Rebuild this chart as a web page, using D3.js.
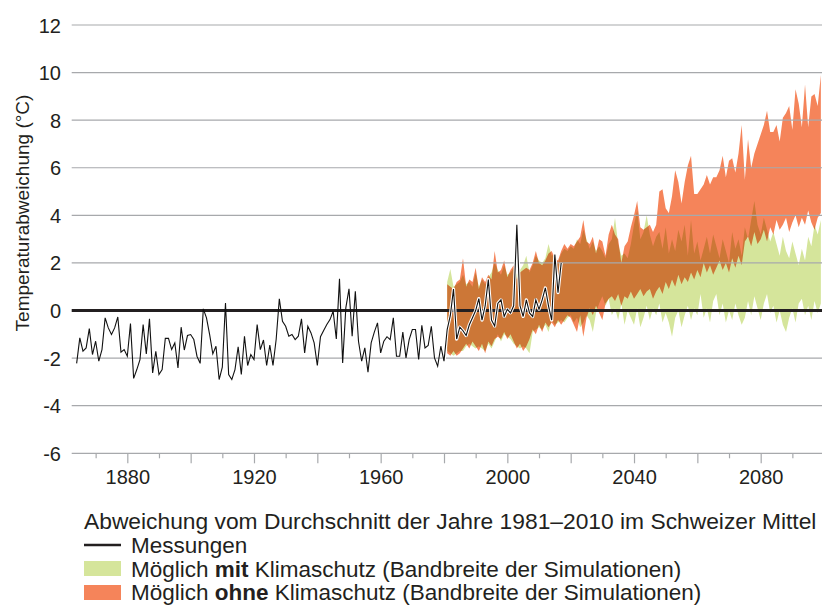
<!DOCTYPE html>
<html><head><meta charset="utf-8">
<script src="https://cdn.jsdelivr.net/npm/d3@7"></script>
<style>
body{margin:0;background:#fff}
svg{display:block}
text{font-family:"Liberation Sans",Arial,Helvetica,sans-serif;fill:#231f20}
</style>
</head><body>
<svg id="c" width="822" height="605"></svg>
<script>
// ---------- data ----------
const messStart = 1864;
const messungen = [
 -2.22,-1.15,-1.71,-1.57,-0.76,-1.85,-1.29,-2.13,-1.64,-0.31,
 -0.73,-1.01,-0.73,-0.27,-1.75,-1.64,-1.92,-0.55,-2.85,-2.48,
 -2.06,-0.59,-1.82,-0.35,-2.62,-1.71,-2.69,-2.48,-1.17,-1.17,
 -1.64,-1.36,-2.41,-0.70,-1.66,-1.05,-1.01,-1.22,-1.92,-2.22,
  0.07,-0.31,-1.01,-1.82,-1.50,-2.90,-2.38, 0.32,-2.69,-2.90,
 -2.48,-1.52,-2.69,-1.08,-2.31,-1.85,-2.06,-0.59,
 -1.64,-1.24,-2.31,-1.45,-2.31,-1.22, 0.49,-0.45,-0.66,-1.08,
 -1.01,-1.22,-1.08,-0.35,-1.78,-0.66,-0.94,-1.36,-2.31,-1.10,
 -0.84,-0.59,-0.38,-0.03,-1.19, 1.33,-2.20, 0.11, 0.91,-1.08,
  0.81,-1.29,-2.13,-1.57,-2.59,-1.36,-0.91,-0.52,-1.78,-1.29,
 -1.10,-1.22,-0.31,-1.92,-1.92,-0.91,-1.99,-1.22,-0.80,-0.80,
 -2.06,-0.62,-1.57,-1.47,-0.66,-1.99,-2.34,-1.50,-2.13,
 -0.80,-0.20, 0.90,-1.20,-0.70,-0.85,-1.05,-0.60,-0.30, 0.00,
  0.50,-0.40, 0.20, 1.30,-0.40,-0.65, 0.30, 0.45,-0.25, 0.05,
 -0.10, 0.20, 3.60, 0.20,-0.25, 0.45,-0.10,-0.25, 0.45, 0.05,
  0.45, 0.95, 0.20,-0.40, 2.35, 0.75, 2.00
];
const bandStart = 1981;
const ohneHi = [
 1.1,1.0,0.9,1.2,1.3,2.2,1.0,1.3,1.2,1.8,
 0.9,1.4,1.2,1.5,1.3,2.5,1.6,1.7,2.1,1.4,
 1.7,1.9,1.3,1.6,1.7,1.8,1.7,2.0,2.5,2.0,
 1.9,2.1,2.4,2.5,2.2,2.1,2.5,2.8,2.6,2.8,
 2.7,2.9,3.1,3.8,2.9,2.8,3.1,2.4,3.0,2.9,
 2.3,3.2,3.6,3.2,3.0,2.0,2.7,2.9,3.5,4.0,
 4.6,3.5,3.4,3.5,3.6,3.3,3.6,5.0,5.1,4.3,
 4.1,4.8,5.9,5.4,4.5,5.4,6.1,6.5,4.9,4.9,
 5.1,5.3,5.7,5.3,5.6,5.6,5.9,6.5,5.6,6.3,
 6.4,5.8,6.6,7.8,5.5,7.2,6.0,6.6,7.0,7.4,
 7.8,8.4,7.5,7.5,7.8,7.1,8.1,8.3,8.6,7.6,
 9.3,8.7,7.7,9.5,7.7,9.0,9.1,8.6,9.9
];
const ohneLo = [
 -1.8,-1.9,-1.7,-1.9,-1.8,-1.6,-1.4,-1.6,-1.3,-1.5,
 -1.7,-1.4,-1.8,-1.3,-1.5,-1.2,-1.1,-1.2,-0.9,-1.2,
 -1.0,-1.3,-1.6,-1.4,-1.7,-1.5,-1.2,-0.8,-1.0,-0.6,
 -0.9,-0.5,-0.7,-0.5,-0.7,-0.4,-0.6,-0.4,-0.2,-0.3,
 -0.6,-0.9,-0.2,-1.1,-0.3,0.1,-0.2,0.2,-0.1,-0.4,
 0.3,0.5,0.6,0.4,0.7,0.2,0.6,0.5,0.8,0.5,
 0.7,0.9,0.6,0.8,0.9,0.5,0.8,1.0,0.7,1.2,
 0.9,1.3,1.0,1.5,1.1,1.4,1.2,1.6,1.3,1.7,
 1.4,2.0,1.6,1.9,1.5,1.8,2.1,1.7,2.0,1.6,
 2.2,1.8,2.3,1.9,2.9,3.1,2.7,3.3,2.8,3.0,
 3.4,2.9,3.5,3.2,3.8,3.4,3.6,3.9,3.3,3.7,
 4.0,3.5,3.9,3.6,4.2,3.7,3.4,3.9,4.1
];
const mitHi = [
 1.2,1.75,1.0,1.1,1.2,1.5,1.1,1.2,1.0,1.6,
 1.0,1.3,1.1,1.4,1.6,2.0,1.7,1.5,1.9,1.5,
 1.6,1.8,1.5,1.7,1.9,2.3,1.6,1.9,2.3,2.1,
 2.0,2.2,2.8,2.3,2.4,2.0,2.4,2.6,2.5,2.7,
 2.6,3.0,2.8,3.4,3.0,2.6,2.9,2.5,2.7,2.5,
 2.2,2.8,3.0,3.9,2.8,2.3,2.4,2.2,2.8,3.6,
 4.2,3.0,3.3,4.0,3.2,2.7,3.1,3.3,2.6,3.5,
 2.4,3.0,2.5,3.4,2.9,3.6,2.3,3.8,2.4,2.9,
 2.1,2.6,3.1,2.4,3.2,2.7,2.2,3.0,2.5,2.0,
 3.3,2.6,3.0,2.3,3.5,3.0,3.8,4.6,3.6,3.2,
 3.9,3.4,2.9,3.3,2.8,2.3,3.1,2.5,2.2,2.9,
 2.4,1.9,2.6,2.1,3.1,2.7,3.6,3.2,3.8
];
const mitLo = [
 -1.7,-1.8,-1.9,-1.8,-1.7,-1.7,-1.5,-1.4,-1.5,-1.6,
 -1.5,-1.6,-1.7,-1.4,-1.6,-1.3,-1.0,-1.3,-1.0,-1.1,
 -1.2,-1.4,-1.5,-1.6,-1.5,-1.6,-1.8,-0.9,-0.8,-0.7,
 -0.8,-0.6,-0.9,-0.4,-0.6,-0.5,-0.4,-0.5,-0.3,-0.2,
 -0.5,-0.3,-0.7,-0.5,-0.2,-0.4,-0.9,-0.1,0.3,0.6,
 0.2,0.5,-0.2,0.1,-0.4,0.3,-0.6,0.0,-0.3,-0.6,
 0.1,-0.7,-0.3,0.2,-0.4,0.1,-0.2,0.3,-0.5,-0.1,
 -0.5,-1.1,-0.3,0.0,-0.7,-0.2,0.2,-0.4,0.1,-0.2,
 0.7,-0.3,0.1,-0.5,0.4,0.7,-0.2,0.3,-0.5,0.0,
 -0.4,0.3,-0.2,-0.6,-0.3,0.4,-0.2,0.6,0.1,-0.4,
 0.3,0.7,-0.1,0.2,-0.5,0.0,-0.6,-0.9,-0.3,0.1,
 -0.5,0.3,0.5,-0.2,0.2,-0.4,0.4,-0.1,0.3
];
const yTicks = [-6,-4,-2,0,2,4,6,8,10,12];
const xTickYears = d3.range(1870, 2100, 10);
const xLabelYears = [1880,1920,1960,2000,2040,2080];
const yTitle = "Temperaturabweichung (°C)";
const legendTitle = "Abweichung vom Durchschnitt der Jahre 1981–2010 im Schweizer Mittel";
const colGreen = "#d5e59b", colOrange = "#f5845a";

// ---------- scales ----------
const svg = d3.select("#c");
const x = d3.scaleLinear().domain([1862.63, 2099.36]).range([72.3, 822]);
const y = d3.scaleLinear().domain([-6, 12]).range([453.3, 25]);
const FONT = '"Liberation Sans",Arial,sans-serif';

// ---------- bands ----------
const band = (lo, hi) => lo.map((v, i) => ({yr: bandStart + i, lo: v, hi: hi[i]}));
const area = d3.area().x(d => x(d.yr)).y0(d => y(d.lo)).y1(d => y(d.hi));
const gBands = svg.append("g").style("isolation", "isolate");
gBands.append("path").attr("d", area(band(mitLo, mitHi))).attr("fill", colGreen);
gBands.append("path").attr("d", area(band(ohneLo, ohneHi))).attr("fill", colOrange)
  .style("mix-blend-mode", "multiply");

// ---------- gridlines ----------
svg.append("g").selectAll("line").data(yTicks.filter(t => t !== 0)).join("line")
  .attr("x1", 71.7).attr("x2", 822).attr("y1", d => y(d)).attr("y2", d => y(d))
  .attr("stroke", "#a7a9ac").attr("stroke-width", 1.2);

// y tick labels
const yAxis = svg.append("g").attr("transform", "translate(61,0)")
  .call(d3.axisLeft(y).tickValues(yTicks).tickSize(0).tickPadding(0).tickFormat(d => String(d)));
yAxis.select(".domain").remove();
yAxis.selectAll("text").attr("font-size", 20).attr("fill", "#231f20")
  .style("font-family", FONT).attr("dy", "0.35em");

// x axis ticks
const xAxis = svg.append("g").attr("transform", `translate(0,${y(-6)})`)
  .call(d3.axisBottom(x).tickValues(xTickYears).tickSize(10).tickFormat(d => xLabelYears.includes(d) ? d : ""));
xAxis.select(".domain").remove();
xAxis.selectAll(".tick line").attr("stroke", "#a7a9ac").attr("stroke-width", 1.2)
  .attr("y2", d => d % 20 === 0 ? 10 : 5);
xAxis.selectAll("text").attr("font-size", 20).attr("fill", "#231f20").attr("y", 17).attr("dy", "0.71em")
  .style("font-family", FONT);

// zero line
svg.append("line").attr("x1", 71.7).attr("x2", 822).attr("y1", y(0)).attr("y2", y(0))
  .attr("stroke", "#231f20").attr("stroke-width", 3);

// ---------- measurements ----------
const mess = messungen.map((v, i) => ({yr: messStart + i, v}));
const line = d3.line().x(d => x(d.yr)).y(d => y(d.v));
svg.append("path").attr("d", line(mess.filter(d => d.yr >= 1980))).attr("fill", "none")
  .attr("stroke", "#fff").attr("stroke-width", 3.2).attr("stroke-linejoin", "round");
svg.append("path").attr("d", line(mess)).attr("fill", "none")
  .attr("stroke", "#111").attr("stroke-width", 1.1).attr("stroke-linejoin", "miter");

// ---------- axis title ----------
svg.append("text").attr("transform", "translate(29,213) rotate(-90)")
  .attr("text-anchor", "middle").attr("font-size", 19).text(yTitle);

// ---------- legend ----------
const lg = svg.append("g");
lg.append("text").attr("x", 84).attr("y", 529).attr("font-size", 22.8).text(legendTitle);
lg.append("line").attr("x1", 84).attr("x2", 121).attr("y1", 545).attr("y2", 545)
  .attr("stroke", "#231f20").attr("stroke-width", 2.5);
lg.append("text").attr("x", 131).attr("y", 553).attr("font-size", 22.5).text("Messungen");
lg.append("rect").attr("x", 84).attr("y", 561).attr("width", 37).attr("height", 15).attr("fill", colGreen);
const t1 = lg.append("text").attr("x", 131).attr("y", 576.5).attr("font-size", 22.5);
t1.append("tspan").text("Möglich ");
t1.append("tspan").attr("font-weight", "bold").text("mit");
t1.append("tspan").text(" Klimaschutz (Bandbreite der Simulationen)");
lg.append("rect").attr("x", 84).attr("y", 585).attr("width", 37).attr("height", 15).attr("fill", colOrange);
const t2 = lg.append("text").attr("x", 131).attr("y", 599.5).attr("font-size", 22.5);
t2.append("tspan").text("Möglich ");
t2.append("tspan").attr("font-weight", "bold").text("ohne");
t2.append("tspan").text(" Klimaschutz (Bandbreite der Simulationen)");
</script>
</body></html>
